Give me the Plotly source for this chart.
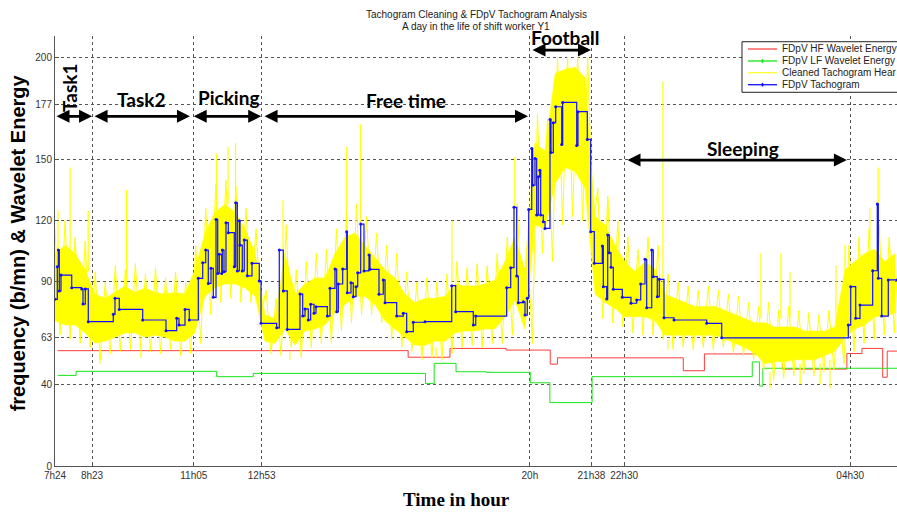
import plotly.graph_objects as go

# ---- time axis (decimal clock hours, >24 = next morning) ----
x_start, x_end = 7.4, 29.74
tick_hours = [7.4, 8.3833, 11.0833, 12.8833, 20.0, 21.6333, 22.5, 28.5]
tick_text = ["7h24", "8h23", "11h05", "12h53", "20h", "21h38", "22h30", "04h30"]
y_ticks = [0, 40, 63, 90, 120, 150, 177, 200]

# ---- FDpV HF wavelet energy (stairs) ----
hf_t = [7.47, 16.77, 17.88, 19.37, 20.54, 20.73, 24.07, 24.63, 26.70, 28.41, 28.81, 29.36, 29.48, 29.74]
hf_v = [56.4, 53.2, 57.5, 56.7, 49.8, 52.9, 46.6, 54.8, 47.4, 55.0, 57.5, 43.4, 56.2, 56.2]

# ---- FDpV LF wavelet energy (stairs) ----
lf_t = [7.47, 7.96, 11.69, 12.66, 17.23, 17.46, 18.04, 18.84, 20.01, 20.53, 21.65, 25.90, 26.09, 26.18, 29.74]
lf_v = [44.3, 46.3, 43.7, 45.3, 40.3, 50.2, 46.1, 45.8, 40.7, 31.0, 43.7, 50.9, 39.1, 47.8, 47.8]

# ---- cleaned tachogram: dense core of the beat-to-beat heart rate ----
hr_t = [7.40, 7.67, 7.93, 8.20, 8.46, 8.73, 8.99, 9.26, 9.52, 9.79,
        10.05, 10.32, 10.58, 10.85, 11.11, 11.38, 11.64, 11.91, 12.18, 12.44,
        12.71, 12.97, 13.24, 13.50, 13.77, 14.03, 14.30, 14.56, 14.83, 15.09,
        15.36, 15.62, 15.89, 16.15, 16.42, 16.69, 16.95, 17.22, 17.48, 17.75,
        18.01, 18.28, 18.54, 18.81, 19.07, 19.34, 19.60, 19.87, 20.13, 20.40,
        20.67, 20.93, 21.20, 21.46, 21.73, 21.99, 22.26, 22.52, 22.79, 23.05,
        23.32, 23.58, 23.85, 24.11, 24.38, 24.64, 24.91, 25.18, 25.44, 25.71,
        25.97, 26.24, 26.50, 26.77, 27.03, 27.30, 27.56, 27.83, 28.09, 28.36,
        28.62, 28.89, 29.15, 29.42, 29.69]
hr_hi = [104, 108, 104, 96, 84, 82, 85, 88, 85, 87,
         85, 84, 85, 84, 96, 114, 124, 128, 124, 116,
         104, 74, 72, 104, 84, 89, 92, 92, 104, 112,
         114, 108, 102, 96, 92, 84, 80, 82, 82, 83,
         89, 88, 88, 89, 91, 100, 112, 96, 158, 154,
         192, 194, 195, 190, 122, 118, 108, 100, 95, 100,
         96, 84, 82, 80, 78, 78, 78, 76, 74, 72,
         70, 70, 68, 68, 68, 66, 66, 66, 68, 96,
         100, 104, 106, 100, 104]
hr_lo = [71, 69, 69, 65, 60, 61, 63, 65, 65, 63,
         64, 63, 61, 61, 65, 83, 87, 89, 89, 87,
         83, 61, 60, 67, 59, 66, 67, 69, 75, 79,
         83, 83, 79, 71, 67, 63, 59, 59, 61, 61,
         65, 66, 66, 67, 67, 73, 81, 67, 118, 116,
         138, 146, 144, 136, 84, 80, 77, 73, 73, 73,
         71, 64, 64, 64, 64, 64, 64, 62, 60, 58,
         55, 50, 51, 51, 52, 52, 52, 54, 56, 63,
         67, 69, 73, 73, 75]

# raw beat-to-beat trace around the core, sampled every 8 minutes
beat_step_h = 8 / 60.0
beat_v = [116, 64, 120, 62, 112, 60, 110, 58, 95, 52, 90, 55, 98, 56, 96, 57, 99, 58, 94, 56,
          97, 55, 92, 57, 95, 54, 90, 55, 108, 60, 126, 74, 138, 80, 140, 82, 137, 80, 126, 80,
          116, 74, 86, 55, 82, 54, 118, 58, 96, 53, 100, 58, 104, 60, 106, 60, 116, 66, 124, 70,
          128, 74, 122, 74, 114, 70, 108, 62, 104, 58, 95, 56, 90, 52, 92, 53, 90, 52, 94, 55,
          100, 58, 97, 59, 99, 58, 98, 60, 104, 60, 112, 64, 128, 70, 110, 60, 172, 104, 170, 100,
          200, 118, 200, 122, 200, 120, 200, 115, 136, 72, 132, 70, 120, 68, 112, 65, 106, 64, 112, 64,
          108, 62, 94, 57, 90, 58, 88, 57, 86, 58, 88, 57, 86, 58, 84, 55, 83, 54, 80, 52,
          78, 46, 80, 42, 76, 43, 78, 44, 76, 45, 75, 44, 74, 46, 76, 47, 78, 50, 108, 56,
          112, 60, 116, 62, 118, 64, 112, 65, 115, 68]
beat_t = [x_start + i * beat_step_h for i in range(len(beat_v))]

# isolated beats standing out of the band (time, from, to)
spike_t = [7.48, 7.80, 8.28, 9.30, 11.69, 11.99, 12.19, 13.45, 15.14, 15.51, 17.93,
           19.60, 22.07, 23.53, 26.13, 26.66, 26.90, 28.12, 28.36, 29.02, 29.24,
           8.59, 9.68, 13.63, 17.51, 23.66, 26.37, 27.17, 27.70, 27.96]
spike_from = [105, 105, 95, 88, 125, 128, 125, 105, 112, 115, 90,
              115, 120, 85, 72, 72, 72, 70, 90, 110, 110,
              57, 60, 56, 58, 62, 46, 50, 50, 52]
spike_to = [125, 146, 125, 135, 153, 156, 158, 130, 156, 167, 120,
            151, 130, 188, 104, 104, 95, 98, 108, 126, 146,
            50, 53, 52, 53, 57, 38, 40, 40, 38]

# ---- FDpV tachogram (stairs) ----
tacho_t = [7.400, 7.461, 7.488, 7.514, 7.559, 7.843, 8.108, 8.143, 8.204, 8.283,
           8.947, 8.992, 9.106, 9.727, 10.345, 10.629, 10.690, 10.849, 10.963, 11.202,
           11.319, 11.398, 11.467, 11.539, 11.600, 11.672, 11.717, 11.759, 11.823, 11.839,
           11.884, 11.937, 11.998, 12.157, 12.194, 12.237, 12.290, 12.308, 12.369, 12.422,
           12.502, 12.627, 12.820, 12.866, 13.282, 13.351, 13.457, 13.563, 13.900, 13.972,
           14.033, 14.120, 14.184, 14.272, 14.325, 14.625, 14.696, 14.829, 14.874, 14.917,
           15.033, 15.139, 15.155, 15.253, 15.314, 15.386, 15.431, 15.511, 15.598, 15.731,
           15.757, 15.996, 16.110, 16.156, 16.466, 16.641, 16.731, 16.906, 17.217, 17.925,
           18.031, 18.498, 18.562, 19.384, 19.491, 19.578, 19.650, 19.692, 19.825, 19.870,
           19.931, 19.968, 20.048, 20.074, 20.135, 20.180, 20.223, 20.260, 20.287, 20.356,
           20.401, 20.533, 20.560, 20.621, 20.684, 20.844, 20.870, 21.242, 21.276, 21.523,
           21.613, 21.709, 21.921, 21.948, 22.038, 22.064, 22.106, 22.152, 22.213, 22.452,
           22.682, 22.834, 22.940, 23.054, 23.099, 23.232, 23.274, 23.380, 23.433, 23.558,
           23.823, 24.691, 25.089, 28.448, 28.512, 28.644, 28.758, 29.095, 29.217, 29.244,
           29.334, 29.509, 29.740]
tacho_v = [81.5, 97.5, 105.6, 85.6, 93.4, 87.2, 86.6, 79.2, 86.6, 70.6,
           74.2, 82.0, 76.6, 71.4, 66.2, 72.2, 68.9, 76.6, 71.4, 91.8,
           99.4, 105.6, 89.3, 96.7, 82.5, 120.6, 94.2, 103.5, 94.2, 105.6,
           95.0, 119.0, 114.1, 97.5, 128.8, 95.4, 120.0, 108.0, 95.4, 110.5,
           93.0, 99.1, 90.5, 69.8, 67.6, 105.6, 85.6, 66.8, 84.1, 73.3,
           76.8, 71.4, 79.1, 74.7, 77.9, 73.3, 86.9, 96.3, 75.4, 89.0,
           96.3, 114.6, 84.7, 89.6, 82.8, 87.7, 94.5, 118.3, 95.4, 103.2,
           96.2, 84.0, 91.0, 79.9, 73.3, 74.7, 65.7, 70.3, 70.6, 88.2,
           75.5, 68.9, 73.3, 87.2, 97.0, 126.5, 92.9, 79.9, 80.3, 73.8,
           82.0, 125.5, 155.3, 137.3, 150.4, 122.7, 141.5, 144.7, 122.7, 119.5,
           116.2, 169.5, 153.3, 167.9, 175.7, 157.2, 177.8, 156.8, 173.3, 159.7,
           114.6, 99.1, 107.6, 87.7, 81.7, 113.0, 104.3, 97.2, 86.4, 82.5,
           79.6, 81.2, 89.0, 101.1, 77.4, 105.6, 92.6, 82.8, 91.3, 72.5,
           71.4, 69.8, 62.7, 68.9, 87.7, 72.2, 78.7, 95.5, 128.1, 91.8,
           73.3, 91.0, 91.0]
assert len(tacho_t) == len(tacho_v)

# ---- activity periods ----
periods = [
    # label, start, end, arrow level, label x, label y, rotated
    ("Task1", 7.40, 8.383, 171.0, 7.78, 185.0, True),
    ("Task2", 8.41, 10.98, 171.0, 9.68, 179.4, False),
    ("Picking", 11.04, 12.87, 171.0, 11.99, 180.0, False),
    ("Free time", 12.92, 19.95, 171.0, 16.71, 179.0, False),
    ("Football", 20.03, 21.62, 203.4, 20.93, 209.6, False),
    ("Sleeping", 22.55, 28.41, 149.6, 25.65, 155.4, False),
]

YELLOW = "#ffff00"
fig = go.Figure()

fig.add_trace(go.Scatter(x=hf_t, y=hf_v, mode="lines", line=dict(color="#ff3a3a", width=1, shape="hv"),
                         name="FDpV HF Wavelet Energy", showlegend=False))
fig.add_trace(go.Scatter(x=lf_t, y=lf_v, mode="lines", line=dict(color="#19e619", width=1, shape="hv"),
                         name="FDpV LF Wavelet Energy", showlegend=False))

# cleaned tachogram: raw trace, dense core, isolated beats
fig.add_trace(go.Scatter(x=beat_t, y=beat_v, mode="lines", line=dict(color=YELLOW, width=1),
                         name="Cleaned Tachogram Heart Rate", showlegend=False))
fig.add_trace(go.Scatter(x=hr_t, y=hr_lo, mode="lines", line=dict(color=YELLOW, width=0.5),
                         showlegend=False, hoverinfo="skip"))
fig.add_trace(go.Scatter(x=hr_t, y=hr_hi, mode="lines", line=dict(color=YELLOW, width=0.5),
                         fill="tonexty", fillcolor=YELLOW, showlegend=False, hoverinfo="skip"))
sx, sy = [], []
for t, a, b in zip(spike_t, spike_from, spike_to):
    sx += [t, t, None]
    sy += [a, b, None]
fig.add_trace(go.Scatter(x=sx, y=sy, mode="lines", line=dict(color=YELLOW, width=1.2),
                         showlegend=False, hoverinfo="skip"))

fig.add_trace(go.Scatter(x=tacho_t, y=tacho_v, mode="lines+markers",
                         line=dict(color="#1010ff", width=1.2, shape="hv"),
                         marker=dict(color="#1010ff", size=3),
                         name="FDpV Tachogram", showlegend=False))

# ---- period arrows and labels ----
ann = []
for label, t0, t1, lvl, lx, ly, rot in periods:
    ann.append(dict(x=t1, y=lvl, ax=t0, ay=lvl, xref="x", yref="y", axref="x", ayref="y",
                    text="", showarrow=True, arrowhead=2, arrowside="end+start",
                    arrowsize=1, arrowwidth=2.6, arrowcolor="black"))
    ann.append(dict(x=lx, y=ly, xref="x", yref="y", text="<b>%s</b>" % label, showarrow=False,
                    xanchor="center", yanchor="middle", textangle=-90 if rot else 0,
                    font=dict(family="Lato", size=19, color="black")))

# ---- titles ----
ann.append(dict(x=0.5, y=1.051, xref="paper", yref="paper", showarrow=False,
                xanchor="center", yanchor="middle",
                text="Tachogram Cleaning & FDpV Tachogram Analysis",
                font=dict(family="Liberation Sans", size=10, color="#222")))
ann.append(dict(x=0.5, y=1.023, xref="paper", yref="paper", showarrow=False,
                xanchor="center", yanchor="middle",
                text="A day in the life of shift worker Y1",
                font=dict(family="Liberation Sans", size=10, color="#222")))
ann.append(dict(x=-0.044, y=0.52, xref="paper", yref="paper", showarrow=False, textangle=-90,
                xanchor="center", yanchor="middle",
                text="<b>frequency (b/mn) & Wavelet Energy</b>",
                font=dict(family="Liberation Sans", size=20, color="black")))
ann.append(dict(x=0.4774, y=-0.079, xref="paper", yref="paper", showarrow=False,
                xanchor="center", yanchor="middle",
                text="<b>Time in hour</b>",
                font=dict(family="Liberation Serif", size=19, color="black")))

# ---- legend box ----
leg_x0, leg_top, leg_bot = 0.8159, 0.9867, 0.8691
leg_rows = [
    ("FDpV HF Wavelet Energy", "#ff4a4a", False, 0.9698),
    ("FDpV LF Wavelet Energy", "#19e619", True, 0.9419),
    ("Cleaned Tachogram Hear", "#ffff33", False, 0.9147),
    ("FDpV Tachogram", "#1010ff", True, 0.8867),
]
shapes = [
    dict(type="rect", xref="paper", yref="paper", x0=leg_x0, x1=1.0, y0=leg_bot, y1=leg_top,
         fillcolor="white", line=dict(width=0), layer="above"),
    dict(type="path", xref="paper", yref="paper",
         path="M 1,%f L %f,%f L %f,%f L 1,%f" % (leg_top, leg_x0, leg_top, leg_x0, leg_bot, leg_bot),
         line=dict(color="#222", width=1), layer="above"),
]
for text, col, dot, yy in leg_rows:
    shapes.append(dict(type="line", xref="paper", yref="paper", x0=0.8230, x1=0.8575, y0=yy, y1=yy,
                       line=dict(color=col, width=1.3), layer="above"))
    if dot:
        shapes.append(dict(type="circle", xref="paper", yref="paper", x0=0.8390, x1=0.8415,
                           y0=yy - 0.0045, y1=yy + 0.0045, fillcolor=col, line=dict(width=0),
                           layer="above"))
    ann.append(dict(x=0.8610, y=yy, xref="paper", yref="paper", xanchor="left", yanchor="middle",
                    showarrow=False, text=text,
                    font=dict(family="Liberation Sans", size=10, color="#222")))

axis_common = dict(showgrid=True, gridcolor="#555", griddash="dot", gridwidth=1,
                   showline=True, linecolor="#555", linewidth=1, zeroline=False,
                   ticks="inside", ticklen=4, tickcolor="#555",
                   tickfont=dict(family="Liberation Sans", size=10, color="#333"))

fig.update_layout(
    width=897, height=512,
    margin=dict(l=55, r=0, t=36, b=46),
    paper_bgcolor="white", plot_bgcolor="white",
    showlegend=False,
    xaxis=dict(range=[x_start, x_end], tickmode="array", tickvals=tick_hours, ticktext=tick_text,
               **axis_common),
    yaxis=dict(range=[0, 210.3], tickmode="array", tickvals=y_ticks, **axis_common),
    annotations=ann,
    shapes=shapes,
)

fig.write_html("out.html")
